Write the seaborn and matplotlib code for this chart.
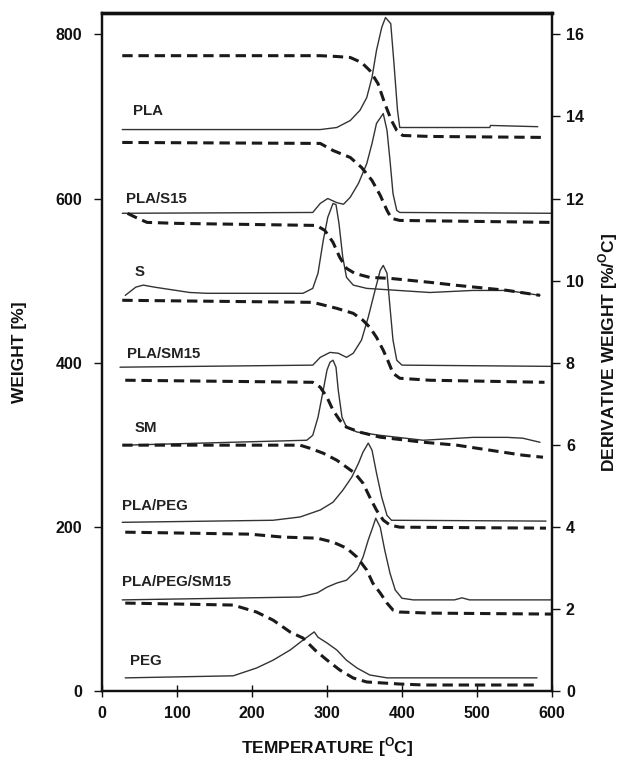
import numpy as np
import pandas as pd
import seaborn as sns
import matplotlib
matplotlib.use("Agg")
import matplotlib.pyplot as plt

# ---------------- data ----------------
# TG curves: temperature [°C] vs weight [%] (stacked, left axis)
pla_tg_t = [27, 291, 313, 331, 346, 357, 368, 377, 386, 393, 401, 437, 592]
pla_tg_w = [774, 774, 773, 771.8, 765.7, 756, 740, 715.8, 695, 683, 676.8, 675.6, 674.4]

plas15_tg_t = [27, 291, 308, 331, 346, 360, 371, 380, 386, 397, 600]
plas15_tg_w = [668.3, 667.1, 658.5, 650, 637.9, 622, 603.8, 585.5, 575.8, 573.3, 570.9]

s_tg_t = [34, 45, 60, 100, 286, 297, 308, 317, 326, 337, 357, 384, 437, 473, 540, 584]
s_tg_w = [581.9, 577, 570.9, 569.7, 567.2, 561.2, 546.6, 528.3, 514.9, 508.8, 503.9, 502.7, 497.9, 494.2, 488.1, 482]

plasm15_tg_t = [27, 281, 313, 335, 348, 357, 366, 375, 381, 388, 397, 437, 590]
plasm15_tg_w = [476, 473.5, 466.2, 460.1, 451.6, 443.1, 430.9, 415.1, 402.9, 387.1, 381, 378.6, 376.1]

sm_tg_t = [31, 281, 291, 300, 308, 317, 326, 344, 371, 428, 473, 517, 561, 588]
sm_tg_w = [378.6, 376.1, 370.1, 357.9, 342.1, 329.9, 321.4, 315.3, 309.2, 303.1, 299.5, 293.4, 287.3, 284.8]

plapeg_tg_t = [27, 264, 277, 295, 313, 326, 337, 348, 357, 366, 375, 384, 397, 592]
plapeg_tg_w = [299.5, 299.5, 295.8, 289.7, 281.2, 272.7, 265.4, 253.2, 236.2, 220.3, 208.2, 202.1, 199.6, 198.4]

plapegsm_tg_t = [31, 197, 241, 287, 308, 326, 340, 353, 361, 371, 380, 388, 397, 437, 600]
plapegsm_tg_w = [193.5, 191.1, 187.5, 186.2, 181.4, 174.1, 163.1, 147.3, 131.5, 119.3, 107.1, 98.6, 96.2, 94.9, 93.7]

peg_tg_t = [31, 175, 206, 228, 251, 268, 284, 300, 317, 335, 353, 397, 430, 580]
peg_tg_w = [107.1, 104.7, 96.2, 86.4, 71.8, 64.5, 49.9, 37.7, 25.6, 15.8, 11, 8.5, 7.3, 7.3]

# DTG curves: temperature [°C] vs derivative weight [%/°C] (stacked, right axis)
pla_dtg_t = [27, 291, 313, 331, 344, 353, 360, 366, 373, 378, 385, 389, 394, 397, 517, 518, 581]
pla_dtg_d = [13.68, 13.68, 13.73, 13.90, 14.15, 14.46, 14.95, 15.61, 16.17, 16.41, 16.26, 15.36, 14.15, 13.73, 13.73, 13.78, 13.75]

plas15_dtg_t = [27, 281, 291, 301, 313, 322, 331, 342, 353, 360, 366, 375, 380, 384, 388, 393, 397, 600]
plas15_dtg_d = [11.64, 11.66, 11.88, 12.0, 11.9, 11.86, 12.03, 12.37, 12.85, 13.34, 13.83, 14.07, 13.66, 12.93, 12.12, 11.71, 11.66, 11.64]

s_dtg_t = [31, 45, 55, 70, 117, 140, 268, 281, 288, 295, 301, 308, 312, 316, 321, 326, 335, 353, 437, 495, 540, 584]
s_dtg_d = [9.64, 9.84, 9.89, 9.84, 9.71, 9.69, 9.69, 9.81, 10.18, 10.98, 11.54, 11.88, 11.85, 11.39, 10.57, 10.08, 9.89, 9.81, 9.71, 9.76, 9.76, 9.64]

plasm15_dtg_t = [24, 281, 291, 304, 315, 326, 335, 346, 355, 364, 371, 375, 380, 384, 388, 393, 400, 600]
plasm15_dtg_d = [7.89, 7.94, 8.13, 8.25, 8.23, 8.13, 8.23, 8.55, 9.11, 9.76, 10.25, 10.37, 10.18, 9.35, 8.55, 8.06, 7.94, 7.91]

sm_dtg_t = [31, 273, 281, 288, 295, 300, 304, 308, 312, 315, 320, 326, 340, 371, 428, 495, 540, 561, 584]
sm_dtg_d = [5.99, 6.11, 6.23, 6.67, 7.33, 7.82, 8.01, 8.06, 7.89, 7.33, 6.67, 6.43, 6.31, 6.23, 6.11, 6.18, 6.18, 6.16, 6.06]

plapeg_dtg_t = [27, 228, 264, 291, 308, 321, 333, 342, 348, 355, 360, 366, 373, 380, 386, 592]
plapeg_dtg_d = [4.11, 4.16, 4.24, 4.41, 4.60, 4.89, 5.21, 5.55, 5.82, 6.04, 5.87, 5.31, 4.72, 4.28, 4.16, 4.14]

plapegsm_dtg_t = [27, 264, 287, 300, 313, 326, 340, 348, 355, 361, 365, 371, 377, 384, 391, 400, 415, 470, 480, 490, 600]
plapegsm_dtg_d = [2.22, 2.29, 2.39, 2.53, 2.63, 2.70, 2.95, 3.26, 3.68, 3.99, 4.21, 3.99, 3.43, 2.87, 2.46, 2.26, 2.22, 2.22, 2.27, 2.22, 2.22]

peg_dtg_t = [31, 175, 206, 228, 251, 268, 277, 283, 288, 300, 313, 326, 340, 357, 380, 580]
peg_dtg_d = [0.32, 0.37, 0.56, 0.75, 1.0, 1.24, 1.36, 1.44, 1.31, 1.17, 1.0, 0.75, 0.56, 0.39, 0.32, 0.32]

sample_labels = ["PLA", "PLA/S15", "S", "PLA/SM15", "SM", "PLA/PEG", "PLA/PEG/SM15", "PEG"]

x_ticks = [0, 100, 200, 300, 400, 500, 600]
left_ticks = [0, 200, 400, 600, 800]
right_ticks = [0, 2, 4, 6, 8, 10, 12, 14, 16]

# ---------------- figure ----------------
sns.set_theme(style="ticks")
plt.rcParams['font.family'] = ['Liberation Sans', 'DejaVu Sans']
plt.rcParams['mathtext.fontset'] = 'custom'
plt.rcParams['mathtext.rm'] = 'Liberation Sans:bold'

fig = plt.figure(figsize=(6.2, 7.66), dpi=100)
ax = fig.add_axes([102 / 620, 1 - 691 / 766, 450 / 620, (691 - 13) / 766])
ax2 = ax.twinx()

tg = [(pla_tg_t, pla_tg_w), (plas15_tg_t, plas15_tg_w), (s_tg_t, s_tg_w),
      (plasm15_tg_t, plasm15_tg_w), (sm_tg_t, sm_tg_w), (plapeg_tg_t, plapeg_tg_w),
      (plapegsm_tg_t, plapegsm_tg_w), (peg_tg_t, peg_tg_w)]
dtg = [(pla_dtg_t, pla_dtg_d), (plas15_dtg_t, plas15_dtg_d), (s_dtg_t, s_dtg_d),
       (plasm15_dtg_t, plasm15_dtg_d), (sm_dtg_t, sm_dtg_d), (plapeg_dtg_t, plapeg_dtg_d),
       (plapegsm_dtg_t, plapegsm_dtg_d), (peg_dtg_t, peg_dtg_d)]

for t, d in dtg:
    sns.lineplot(x=t, y=d, ax=ax2, color="#333333", linewidth=1.0,
                 sort=False, estimator=None)
for t, w in tg:
    sns.lineplot(x=t, y=w, ax=ax, color="#1a1a1a", linewidth=2.2,
                 linestyle=(0, (3.4, 1.9)), sort=False, estimator=None)

ax.set_zorder(ax2.get_zorder() + 1)
ax.patch.set_visible(False)

ax.set_xlim(0, 600)
ax.set_ylim(0, 826)
ax2.set_ylim(0, 826 / 50)
ax.set_xticks(x_ticks)
ax.set_yticks(left_ticks)
ax2.set_yticks(right_ticks)

tick_font = dict(fontsize=11.5, fontweight="bold")
ax.set_xticklabels([str(v) for v in x_ticks], **tick_font)
ax.set_yticklabels([str(v) for v in left_ticks], **tick_font)
ax2.set_yticklabels([str(v) for v in right_ticks], **tick_font)

ax.tick_params(axis="x", direction="inout", length=9, width=1.0, pad=6, colors="#111")
ax.tick_params(axis="y", direction="out", length=6, width=1.0, pad=8, colors="#111")
ax2.tick_params(axis="y", direction="out", length=6, width=1.0, pad=4, colors="#111")

for a in (ax, ax2):
    for side in ("left", "right", "bottom"):
        a.spines[side].set_linewidth(1.6)
        a.spines[side].set_color("#111")
    a.spines["top"].set_linewidth(2.4)
    a.spines["top"].set_color("#111")

lab_font = dict(fontsize=12.5, fontweight="bold", color="#111")
ax.set_xlabel(r"TEMPERATURE [$^{\mathregular{O}}$C]", **lab_font)
ax.set_ylabel("WEIGHT [%]", **lab_font)
ax2.set_ylabel(r"DERIVATIVE WEIGHT [%/$^{\mathregular{O}}$C]", rotation=90, **lab_font)
ax.xaxis.set_label_coords(0.5, (691 - 735) / 678)
ax.yaxis.set_label_coords((27 - 102) / 450, 0.5)
ax2.yaxis.set_label_coords((596 - 102) / 450, 0.5)

label_pos = [(41, 706), (32, 600), (44, 511), (33, 411), (44, 320), (27, 225), (27, 133), (37, 37)]
for name, (lx, ly) in zip(sample_labels, label_pos):
    ax.text(lx, ly, name, fontsize=10.8, fontweight="bold", ha="left", va="center", color="#222")

fig.savefig("out.png", dpi=100)
